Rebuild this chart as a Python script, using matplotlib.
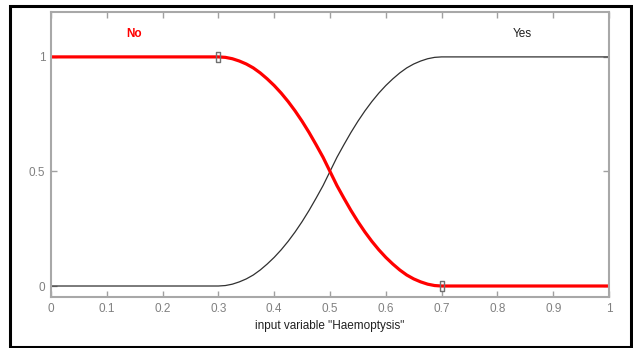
import matplotlib
matplotlib.use("Agg")
import matplotlib.pyplot as plt
from matplotlib.patches import Rectangle

plt.rcParams['font.family'] = ['Liberation Sans', 'DejaVu Sans']

# membership values
x_vals = [0, 0.3, 0.3125, 0.325, 0.3375, 0.35, 0.3625, 0.375, 0.3875, 0.4,
          0.4125, 0.425, 0.4375, 0.45, 0.4625, 0.475, 0.4875, 0.5,
          0.5125, 0.525, 0.5375, 0.55, 0.5625, 0.575, 0.5875, 0.6,
          0.6125, 0.625, 0.6375, 0.65, 0.6625, 0.675, 0.6875, 0.7, 1]
yes_vals = [0, 0, 0.002, 0.008, 0.018, 0.031, 0.048, 0.07, 0.096, 0.125,
            0.158, 0.195, 0.236, 0.281, 0.33, 0.383, 0.438, 0.5,
            0.562, 0.617, 0.67, 0.719, 0.764, 0.805, 0.842, 0.875,
            0.904, 0.93, 0.952, 0.969, 0.982, 0.992, 0.998, 1, 1]
no_vals = [1, 1, 0.998, 0.992, 0.982, 0.969, 0.952, 0.93, 0.904, 0.875,
           0.842, 0.805, 0.764, 0.719, 0.67, 0.617, 0.562, 0.5,
           0.438, 0.383, 0.33, 0.281, 0.236, 0.195, 0.158, 0.125,
           0.096, 0.07, 0.048, 0.031, 0.018, 0.008, 0.002, 0, 0]

# selected-function handle points
handle_x = [0.3, 0.7]
handle_y = [1, 0]

x_ticks = [0, 0.1, 0.2, 0.3, 0.4, 0.5, 0.6, 0.7, 0.8, 0.9, 1]
x_ticklabels = ["0", "0.1", "0.2", "0.3", "0.4", "0.5", "0.6", "0.7", "0.8", "0.9", "1"]
y_ticks = [0, 0.5, 1]
y_ticklabels = ["0", "0.5", "1"]

fig = plt.figure(figsize=(6.33, 3.48), dpi=100)
ax = fig.add_axes([51 / 633, 1 - 297 / 348, 558 / 633, 285 / 348])

ax.plot(x_vals, yes_vals, color="#303030", lw=0.9)
ax.plot(x_vals, no_vals, color="#ff0000", lw=2.3, solid_capstyle="butt")
handle_marker = [(-0.55, -1), (0.55, -1), (0.55, 1), (-0.55, 1), (-0.55, -1)]
ax.plot(handle_x, handle_y, ls="none", marker=handle_marker, markersize=6.5,
        mfc="none", mec="#707070", mew=1.0)

ax.text(0.149, 1.10, "No", color="#ff0000", fontsize=8.5, fontweight="bold",
        ha="center", va="center")
ax.text(0.844, 1.10, "Yes", color="#202020", fontsize=8.5,
        ha="center", va="center")

ax.set_xlim(0, 1)
ax.set_ylim(-0.048, 1.196)
ax.set_xticks(x_ticks)
ax.set_xticklabels(x_ticklabels)
ax.set_yticks(y_ticks)
ax.set_yticklabels(y_ticklabels)
ax.tick_params(direction="in", top=True, right=True, length=4, width=1,
               color="#a0a0a0", labelcolor="#808080", labelsize=8.5, pad=4)
for sp in ax.spines.values():
    sp.set_color("#a8a8a8")
    sp.set_linewidth(1.5)
ax.set_xlabel('input variable "Haemoptysis"', fontsize=8.5, color="#202020", labelpad=4)

# outer black frame of the screenshot
fig.patches.append(Rectangle((10 / 633, 1 / 348), 621 / 633, 341 / 348,
                             transform=fig.transFigure, fill=False,
                             edgecolor="black", linewidth=2.2))

fig.savefig("out.png", dpi=100)
